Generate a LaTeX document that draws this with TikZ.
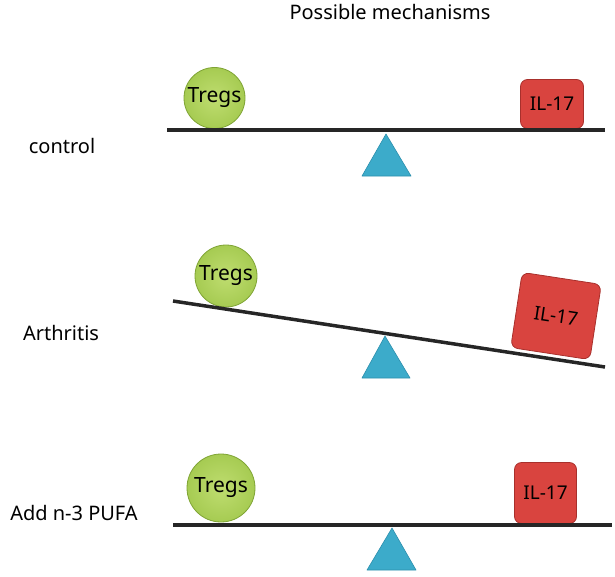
\documentclass[tikz,border=0pt]{standalone}
\usepackage{fontspec}
\setmainfont{Noto Sans}
\usepackage{xcolor}
\definecolor{tregfill}{HTML}{A6CB52}
\definecolor{tregin}{HTML}{BFDD70}
\definecolor{tregline}{HTML}{7FA434}
\definecolor{ilfill}{HTML}{D9443F}
\definecolor{illine}{HTML}{A8302C}
\definecolor{pivotfill}{HTML}{3CABCA}
\definecolor{pivotline}{HTML}{2C8FAD}

\begin{document}
\begin{tikzpicture}[x=1pt, y=-1pt,
    beam/.style={line width=3.5pt, black!85},
    treg/.style={circle, shading=radial, inner color=tregin, outer color=tregfill,
      draw=tregline, line width=0.8pt, inner sep=0pt, font=\fontsize{21}{21}\selectfont},
    ilbox/.style={rectangle, rounded corners=7pt, fill=ilfill, draw=illine, line width=0.8pt,
      inner sep=0pt, font=\fontsize{19}{19}\selectfont},
    pivot/.style={fill=pivotfill, draw=pivotline, line width=0.6pt, line join=round},
    label/.style={font=\fontsize{20}{20}\selectfont}]
			\useasboundingbox (0,0) rectangle (615,576);

			% Title
			\node[label] (title) at (390,12) {Possible mechanisms};

			% Draw the control balance
			\node[label] (lab1) at (62,146) {control};
			\coordinate (b1l) at (167,130);
			\coordinate (b1r) at (605,130);
			\draw[pivot] (386,134) -- (411,176) -- (362,176) -- cycle;
			\node[treg, minimum size=61pt] (t1) at (214.5,98) {Tregs};
			\node[ilbox, minimum width=63pt, minimum height=49pt] (il1) at (552,104) {IL-17};
			\draw[beam] (b1l) -- (b1r);

			% Draw the arthritis balance (tipped to the right)
			\node[label] (lab2) at (61,333) {Arthritis};
			\coordinate (b2l) at (173,301);
			\coordinate (b2r) at (605,367);
			\draw[pivot] (385,336) -- (410,378) -- (362,378) -- cycle;
			\node[treg, minimum size=62pt] (t2) at (226,276) {Tregs};
			\node[ilbox, rotate=-8.7, minimum width=80pt, minimum height=76pt] (il2) at (556,316) {IL-17};
			\draw[beam] (b2l) -- (b2r);

			% Draw the balance after adding n-3 PUFA
			\node[label] (lab3) at (74,513) {Add n-3 PUFA};
			\coordinate (b3l) at (173,525);
			\coordinate (b3r) at (612,525);
			\draw[pivot] (392,528) -- (416,570) -- (367,570) -- cycle;
			\node[treg, minimum size=68pt] (t3) at (221,488) {Tregs};
			\node[ilbox, minimum width=62pt, minimum height=61pt] (il3) at (545.5,493) {IL-17};
			\draw[beam] (b3l) -- (b3r);
		\end{tikzpicture}
\end{document}
